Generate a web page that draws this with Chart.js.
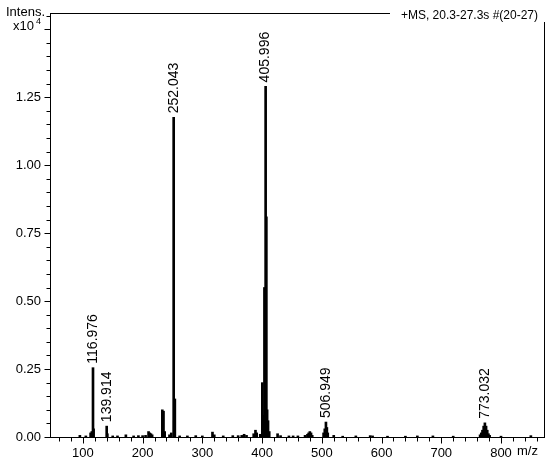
<!DOCTYPE html>
<html><head><meta charset="utf-8">
<script src="https://cdn.jsdelivr.net/npm/chart.js@4/dist/chart.umd.min.js"></script>
<style>html,body{margin:0;padding:0;background:#fff}#wrap{width:550px;height:461px;position:relative}</style>
</head><body><div id="wrap"><canvas id="c" width="550" height="461"></canvas></div>
<script>
// m/z positions of the sticks
const mz = [95,105,113,115,116.976,118,139.914,141,150,158,172,185,193,200,205,210,212,214,216,
  233,235,237,245,248,252.043,253,254,262,275,289,300,317,320,335,351,360,366,370,374,386,389,391,397,
  400.5,402,404,405.996,407.2,408.5,410,412,426,431,445,452,460,472,476,478,480,482,484,
  503,505,506.949,508.5,510,520,535,557,581,585,610,640,660,686,720,
  765,767,769,771,773.032,775,777,779,781,800,850];
// intensities (x10^4)
const intensity = [0.006,0.004,0.015,0.02,0.255,0.03,0.04,0.012,0.004,0.004,0.008,0.004,0.005,0.005,0.006,0.02,0.015,0.012,0.008,
  0.10,0.095,0.02,0.008,0.015,1.176,0.06,0.14,0.004,0.004,0.005,0.004,0.018,0.008,0.004,0.005,0.005,0.006,0.01,0.006,0.012,0.025,0.015,0.01,
  0.2,0.08,0.55,1.29,0.81,0.1,0.06,0.02,0.012,0.005,0.004,0.004,0.004,0.006,0.01,0.015,0.02,0.015,0.006,
  0.015,0.03,0.055,0.035,0.015,0.006,0.003,0.004,0.005,0.004,0.003,0.003,0.004,0.004,0.003,
  0.008,0.015,0.025,0.04,0.052,0.04,0.025,0.012,0.006,0.003,0.005];
const peakLabelMz = [116.976,139.914,252.043,405.996,506.949,773.032];
const peakLabels = ['116.976','139.914','252.043','405.996','506.949','773.032'];
const xTickLabels = [100,200,300,400,500,600,700,800];
const yTickLabels = ['0.00','0.25','0.50','0.75','1.00','1.25'];

const FONT = '"Liberation Sans", Arial, sans-serif';
const xMinor = []; for (let v = 60; v <= 860; v += 20) xMinor.push(v);
const yMinor = []; for (let i = 0; i <= 31; i++) yMinor.push(Math.round(i*5)/100);

const deco = {
  id: 'deco',
  afterDraw(chart) {
    const ctx = chart.ctx, a = chart.chartArea;
    const xs = chart.scales.x, ys = chart.scales.y;
    ctx.save();
    ctx.strokeStyle = '#000'; ctx.lineWidth = 1;
    ctx.strokeRect(Math.round(a.left)+0.5, Math.round(a.top)+0.5, Math.round(a.right-a.left), Math.round(a.bottom-a.top));
    ctx.beginPath();
    const yb = Math.round(a.bottom)+0.5;
    xMinor.forEach(v => {
      const px = Math.round(xs.getPixelForValue(v))+0.5;
      ctx.moveTo(px, yb); ctx.lineTo(px, yb + (v % 100 === 0 ? 6 : 4));
    });
    const xl = Math.round(a.left)+0.5;
    yMinor.forEach(v => {
      if (v > ys.max) return;
      const py = Math.round(ys.getPixelForValue(v))+0.5;
      const major = Math.abs(v*4 - Math.round(v*4)) < 1e-6;
      ctx.moveTo(xl, py); ctx.lineTo(xl - (major ? 6 : 4), py);
    });
    ctx.stroke();
    // peak labels
    const meta = chart.getDatasetMeta(0);
    ctx.fillStyle = '#000';
    ctx.font = '14px ' + FONT;
    peakLabelMz.forEach((m, k) => {
      const i = mz.indexOf(m);
      const el = meta.data[i];
      ctx.save();
      ctx.translate(el.x, el.y - 4);
      ctx.rotate(-Math.PI/2);
      ctx.textAlign = 'left'; ctx.textBaseline = 'middle';
      ctx.fillText(peakLabels[k], 0, 0);
      ctx.restore();
    });
    // axis texts
    ctx.font = '13px ' + FONT;
    ctx.textAlign = 'left'; ctx.textBaseline = 'alphabetic';
    ctx.fillText('Intens.', 6, 16);
    ctx.fillText('x10', 13, 30);
    ctx.font = '9px ' + FONT;
    ctx.fillText('4', 36, 24);
    ctx.font = '13px ' + FONT;
    ctx.fillText('m/z', 517, 455);
    // top-right text box
    ctx.fillStyle = '#fff';
    ctx.fillRect(390, 4, 160, 18);
    ctx.fillStyle = '#000';
    ctx.font = '12px ' + FONT;
    ctx.textAlign = 'right';
    ctx.fillText('+MS, 20.3-27.3s #(20-27)', 538, 19);
    ctx.restore();
  }
};

new Chart(document.getElementById('c'), {
  type: 'bar',
  data: { datasets: [{
    data: mz.map((m, i) => ({x: m, y: intensity[i]})),
    backgroundColor: '#000', borderWidth: 0, barThickness: 2
  }]},
  options: {
    responsive: false, animation: false,
    layout: { padding: { top: 13, right: 6, left: 0, bottom: 0 } },
    plugins: { legend: { display: false }, tooltip: { enabled: false } },
    scales: {
      x: {
        type: 'linear', min: 45, max: 872, offset: false,
        afterBuildTicks: s => { s.ticks = xMinor.map(v => ({value: v})); },
        afterFit: s => { s.height = 24; },
        ticks: { autoSkip: false, maxRotation: 0, padding: 3, color: '#000', font: { family: FONT, size: 13 },
          callback: v => xTickLabels.includes(v) ? String(v) : '' },
        grid: { display: false, drawTicks: true, tickLength: 6 },
        border: { display: false }
      },
      y: {
        min: 0, max: 1.56,
        afterBuildTicks: s => { s.ticks = yMinor.map(v => ({value: v})); },
        afterFit: s => { s.width = 50; },
        ticks: { autoSkip: false, padding: 3, color: '#000', font: { family: FONT, size: 13 },
          callback: v => { const t = v.toFixed(2); return yTickLabels.includes(t) && Math.abs(v*4-Math.round(v*4))<1e-6 ? t : ''; } },
        grid: { display: false, drawTicks: true, tickLength: 6 },
        border: { display: false }
      }
    }
  },
  plugins: [deco]
});
</script>
</body></html>
